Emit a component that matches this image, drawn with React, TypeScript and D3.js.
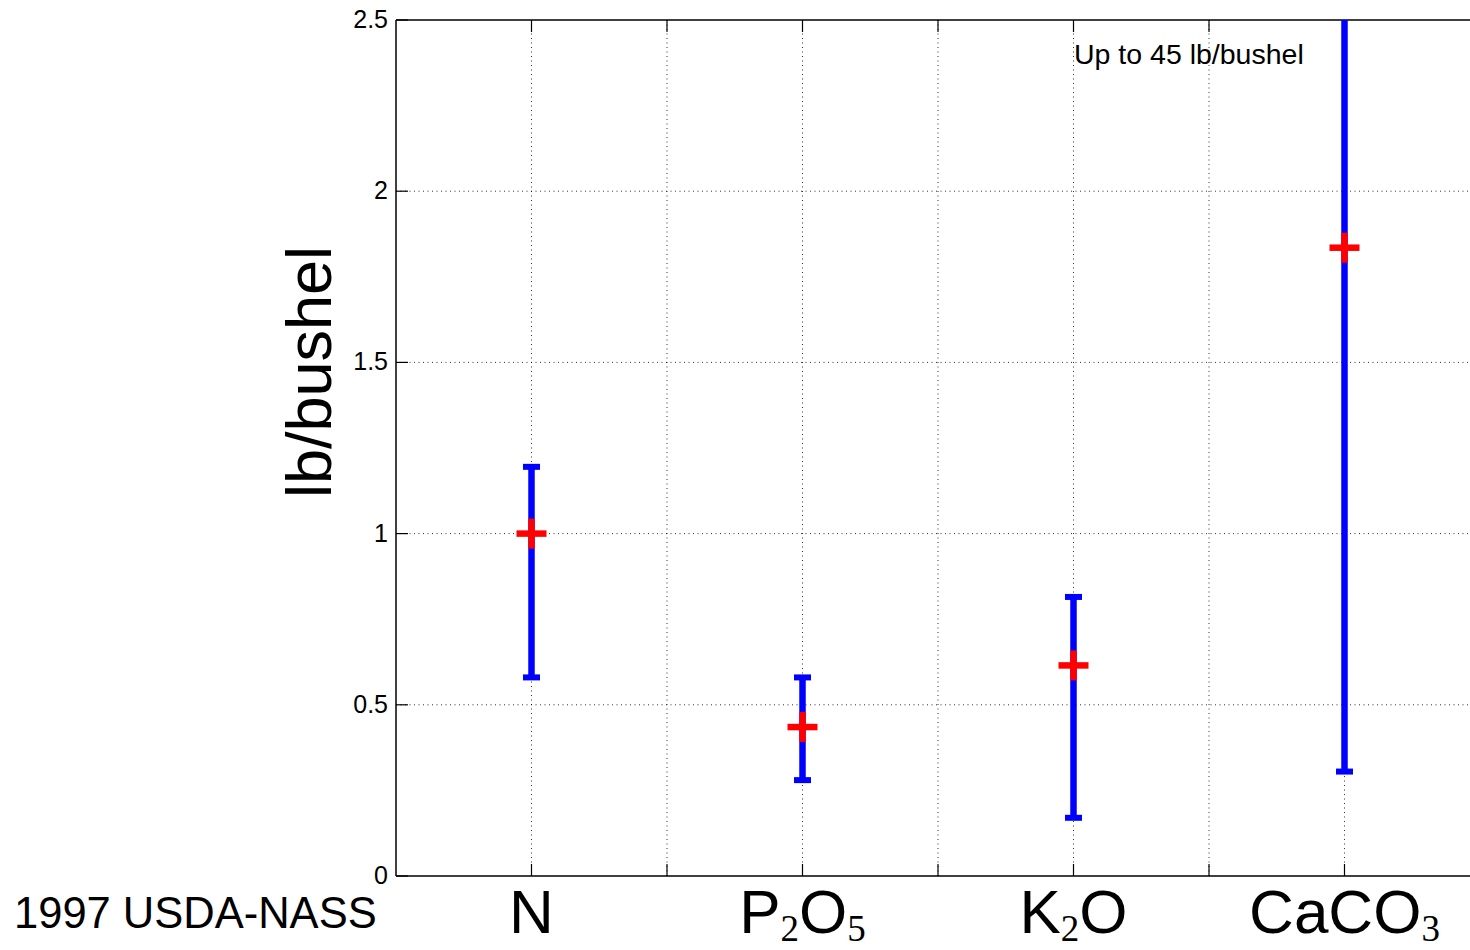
import React from "react";
import * as d3 from "d3";

const categories = ["N", "P2O5", "K2O", "CaCO3"];
const centers = [1.0, 0.435, 0.615, 1.835];
const lows = [0.58, 0.28, 0.17, 0.305];
const highs = [1.195, 0.58, 0.815, 45];
const yTicks = [0, 0.5, 1, 1.5, 2, 2.5];
const xGrid = [1, 1.5, 2, 2.5, 3, 3.5, 4, 4.5];
const labelParts: [string, string][][] = [
  [["N", ""]],
  [["P", "2"], ["O", "5"]],
  [["K", "2"], ["O", ""]],
  [["CaCO", "3"]],
];

const W = 1470, H = 950;
const left = 396, top = 20, bottom = 876, rightEdge = 1480;

export default function App() {
  const x = d3.scaleLinear().domain([0.5, 4.5]).range([left, rightEdge]);
  const y = d3.scaleLinear().domain([0, 2.5]).range([bottom, top]);
  const font = "'Liberation Sans', Arial, Helvetica, sans-serif";
  const serif = "'Liberation Serif', 'DejaVu Serif', serif";
  const subShift = 8;
  return (
    <svg width={W} height={H} style={{ position: "absolute", left: 0, top: 0, background: "#fff" }}>
      <defs>
        <clipPath id="plot">
          <rect x={left} y={top} width={rightEdge - left} height={bottom - top} />
        </clipPath>
      </defs>
      <rect x={0} y={0} width={W} height={H} fill="#fff" />
      {xGrid.map((v, i) => (
        <line key={"gx" + i} x1={x(v)} x2={x(v)} y1={top} y2={bottom} stroke="#000" strokeWidth={1} strokeDasharray="1,3.5" opacity={0.8} />
      ))}
      {yTicks.slice(1, -1).map((v, i) => (
        <line key={"gy" + i} x1={left} x2={rightEdge} y1={y(v)} y2={y(v)} stroke="#000" strokeWidth={1} strokeDasharray="1,3.5" opacity={0.8} />
      ))}
      <line x1={left} x2={rightEdge} y1={bottom} y2={bottom} stroke="#000" strokeWidth={1.5} />
      <line x1={left} x2={rightEdge} y1={top} y2={top} stroke="#000" strokeWidth={1.5} />
      <line x1={left} x2={left} y1={top} y2={bottom} stroke="#000" strokeWidth={1.5} />
      {xGrid.map((v, i) => (
        <g key={"xt" + i}>
          <line x1={x(v)} x2={x(v)} y1={bottom} y2={bottom - 12} stroke="#000" strokeWidth={1.2} />
          <line x1={x(v)} x2={x(v)} y1={top} y2={top + 12} stroke="#000" strokeWidth={1.2} />
        </g>
      ))}
      {yTicks.map((v, i) => (
        <g key={"yt" + i}>
          <line x1={left} x2={left + 12} y1={y(v)} y2={y(v)} stroke="#000" strokeWidth={1.2} />
          <text x={left - 8} y={y(v) + 8} textAnchor="end" fontFamily={font} fontSize={25}>{String(v)}</text>
        </g>
      ))}
      <g clipPath="url(#plot)">
        {categories.map((c, i) => {
          const cx = x(i + 1);
          return (
            <g key={c}>
              <line x1={cx} x2={cx} y1={y(lows[i])} y2={y(highs[i])} stroke="#0000ff" strokeWidth={6.5} />
              <line x1={cx - 8.5} x2={cx + 8.5} y1={y(lows[i])} y2={y(lows[i])} stroke="#0000ff" strokeWidth={6} />
              <line x1={cx - 8.5} x2={cx + 8.5} y1={y(highs[i])} y2={y(highs[i])} stroke="#0000ff" strokeWidth={6} />
              <line x1={cx - 15} x2={cx + 15} y1={y(centers[i])} y2={y(centers[i])} stroke="#ff0000" strokeWidth={6.5} />
              <line x1={cx} x2={cx} y1={y(centers[i]) - 15} y2={y(centers[i]) + 15} stroke="#ff0000" strokeWidth={6.5} />
            </g>
          );
        })}
      </g>
      {labelParts.map((parts, i) => (
        <text key={"xl" + i} x={x(i + 1)} y={933} textAnchor="middle" fontFamily={font} fontSize={62}>
          {parts.map(([main, sub], j) => {
            const prevSub = j > 0 && parts[j - 1][1] !== "";
            return (
              <React.Fragment key={j}>
                <tspan dy={prevSub ? -subShift : 0}>{main}</tspan>
                {sub ? <tspan fontFamily={serif} fontSize={37} dy={subShift}>{sub}</tspan> : null}
              </React.Fragment>
            );
          })}
        </text>
      ))}
      <text x={14} y={928} fontFamily={font} fontSize={43.5}>1997 USDA-NASS</text>
      <text x={1074} y={64} fontFamily={font} fontSize={28.5}>Up to 45 lb/bushel</text>
      <text transform={`translate(331, ${372}) rotate(-90)`} textAnchor="middle" fontFamily={font} fontSize={63}>lb/bushel</text>
    </svg>
  );
}
